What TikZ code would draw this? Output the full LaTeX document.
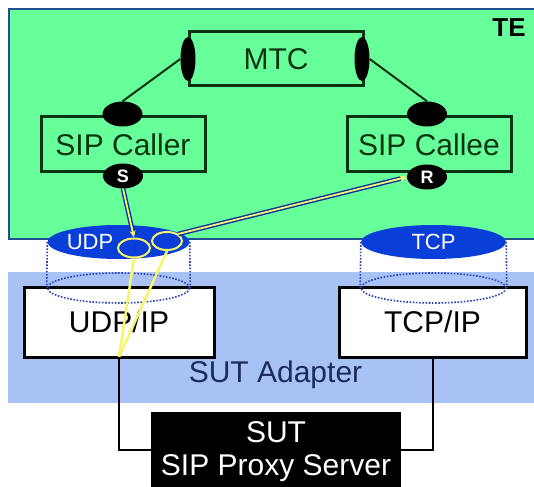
\documentclass[tikz,border=0pt]{standalone}
\usepackage{fontspec}
\setmainfont{Liberation Sans}
\usetikzlibrary{shapes.geometric,arrows.meta,calc}

\definecolor{tegreen}{HTML}{66FF99}
\definecolor{teedge}{HTML}{1F4F8F}
\definecolor{dkgreen}{HTML}{0B3512}
\definecolor{adaptblue}{HTML}{A8C2F6}
\definecolor{portblue}{HTML}{0A3ED8}
\definecolor{navytext}{HTML}{1C2C5C}
\definecolor{dotblue}{HTML}{2A44B8}
\definecolor{sigyellow}{HTML}{F6F66A}

\tikzset{
  big/.style={font=\fontsize{30}{34}\selectfont},
  compbox/.style={draw=dkgreen, line width=3pt, text=dkgreen, big, inner sep=0pt},
  blob/.style={ellipse, fill=black, draw=none, inner sep=0pt},
  portlabel/.style={blob, text=white, font=\fontsize{18}{20}\selectfont\bfseries},
  wire/.style={draw=dkgreen, line width=2pt},
  servicedisk/.style={ellipse, fill=portblue, draw=none, text=white, inner sep=0pt,
    font=\fontsize{22}{24}\selectfont},
  cylbase/.style={ellipse, draw=dotblue, dash pattern=on 1.6pt off 1.6pt, line width=1.6pt, inner sep=0pt},
  cylside/.style={draw=dotblue, dash pattern=on 1.6pt off 1.6pt, line width=1.6pt},
  stackbox/.style={draw=black, line width=3pt, fill=white, big, inner sep=0pt},
  sapport/.style={ellipse, fill=portblue, draw=sigyellow, line width=2pt, inner sep=0pt},
  sigline/.style={draw=portblue!75!black, line width=1.4pt, double=sigyellow, double distance=1.8pt},
  sigtip/.style={draw=sigyellow, line width=1.5pt, -{Stealth[length=7pt,width=6pt]}},
  mapline/.style={draw=sigyellow, line width=2.5pt},
  link/.style={draw=black, line width=2pt}
}

\begin{document}
\begin{tikzpicture}[x=1pt,y=-1pt]
\useasboundingbox (0,0) rectangle (534,486);
\begin{scope}
\clip (0,0) rectangle (534,486);

% test environment area
\fill[tegreen] (9,9) rectangle (545,239);
\draw[teedge, line width=2.5pt] (545,9) -- (9,9) -- (9,239) -- (545,239);
\node[font=\fontsize{26}{28}\selectfont\bfseries, text=black] (te) at (509,28) {TE};

% adapter area
\fill[adaptblue] (8,272) rectangle (545,403);
\node[big, text=navytext] (adapter) at (275.5,375) {SUT Adapter};

% test components
\node[compbox, minimum width=174pt, minimum height=54pt] (mtc) at (276,59) {MTC};
\node[blob, minimum width=15pt, minimum height=44pt] (mtcL) at (188,59) {};
\node[blob, minimum width=15pt, minimum height=44pt] (mtcR) at (362,59) {};

\node[compbox, minimum width=164pt, minimum height=55pt] (caller) at (123,144.5) {SIP Caller};
\node[blob, minimum width=40pt, minimum height=25pt] (callerTop) at (122.5,114) {};
\node[portlabel, minimum width=40pt, minimum height=25pt] (callerS) at (123,176) {S};

\node[compbox, minimum width=164pt, minimum height=55pt] (callee) at (429,144.5) {SIP Callee};
\node[blob, minimum width=40pt, minimum height=25pt] (calleeTop) at (427,114) {};
\node[portlabel, minimum width=40pt, minimum height=25pt] (calleeR) at (427,177) {R};

\draw[wire] (mtcL.west) -- (callerTop.north);
\draw[wire] (mtcR.east) -- (calleeTop.north);

% protocol stacks
\node[stackbox, minimum width=190pt, minimum height=70pt] (udpip) at (119,322) {UDP/IP};
\node[stackbox, minimum width=187pt, minimum height=70pt] (tcpip) at (432.5,322) {TCP/IP};

% dotted cylinders between service disks and stacks
\node[cylbase, minimum width=142pt, minimum height=30pt] (udpbase) at (118.5,288) {};
\node[cylbase, minimum width=145pt, minimum height=30pt] (tcpbase) at (433.5,288) {};
\node[servicedisk, minimum width=142pt, minimum height=34pt] (udp) at (118.5,242) {};
\node[servicedisk, minimum width=145pt, minimum height=34pt] (tcp) at (433.5,242) {TCP};
\node[text=white, font=\fontsize{22}{24}\selectfont] (udptext) at (90,242) {UDP};
\draw[cylside] (udp.west) -- (udpbase.west);
\draw[cylside] (udp.east) -- (udpbase.east);
\draw[cylside] (tcp.west) -- (tcpbase.west);
\draw[cylside] (tcp.east) -- (tcpbase.east);

% system adapter ports and their mapping
\node[sapport, minimum width=32pt, minimum height=19pt] (port1) at (134,248) {};
\node[sapport, minimum width=30pt, minimum height=18pt] (port2) at (167,241) {};
\coordinate (udpfoot) at (119,357);
\draw[mapline] (port1.south) -- (udpfoot);
\draw[mapline] (port2.south) -- (udpfoot);

\draw[sigline, shorten >=6pt] (callerS.south) -- (port1.north);
\draw[sigtip] ($(callerS.south)!0.75!(port1.north)$) -- (port1.north);
\draw[sigline, shorten >=6pt] (port2.north east) -- (calleeR.west);
\draw[sigtip] ($(port2.north east)!0.92!(calleeR.west)$) -- (calleeR.west);

% system under test
\node[fill=black, minimum width=250pt, minimum height=80pt, inner sep=0pt] (sut) at (276,452) {};
\node[big, text=white] (suttitle) at (276,432) {SUT};
\node[big, text=white] (sutname) at (276,468) {SIP Proxy Server};
\coordinate (udpbend) at (119,450);
\coordinate (tcpbend) at (432.5,450);
\draw[link] (udpfoot) -- (udpbend) -- (sut.west |- udpbend);
\draw[link] (tcpip.south) -- (tcpbend) -- (sut.east |- tcpbend);
\end{scope}
\end{tikzpicture}
\end{document}
